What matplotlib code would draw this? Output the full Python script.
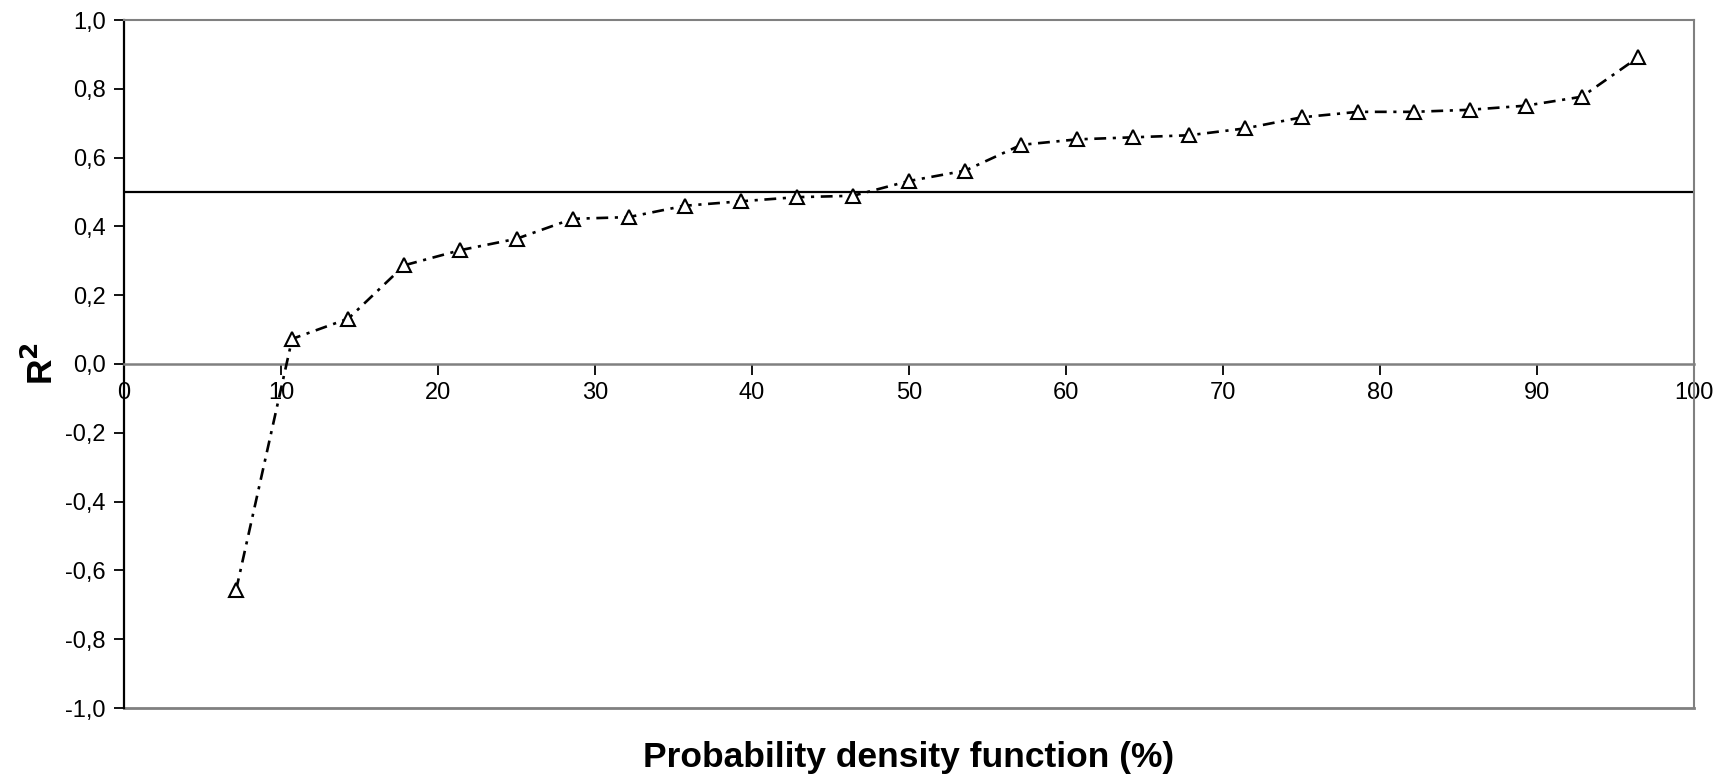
import matplotlib
matplotlib.use("Agg")
import matplotlib.pyplot as plt
from matplotlib.ticker import FuncFormatter, MultipleLocator

# Data
pdf_percent = [7.14, 10.71, 14.29, 17.86, 21.43, 25.00, 28.57, 32.14, 35.71, 39.29,
               42.86, 46.43, 50.00, 53.57, 57.14, 60.71, 64.29, 67.86, 71.43, 75.00,
               78.57, 82.14, 85.71, 89.29, 92.86, 96.43]
r2_values = [-0.657, 0.073, 0.132, 0.287, 0.331, 0.364, 0.422, 0.427, 0.460, 0.473,
             0.485, 0.489, 0.532, 0.562, 0.637, 0.653, 0.659, 0.665, 0.685, 0.717,
             0.733, 0.733, 0.739, 0.751, 0.777, 0.891]
threshold = 0.5
x_label = "Probability density function (%)"
y_label = "R$^\\mathbf{2}$"

plt.rcParams['font.family'] = ['Liberation Sans', 'DejaVu Sans']

fig = plt.figure(figsize=(17.16, 7.82), dpi=100)
ax = fig.add_axes([124/1716, 1-708/782, (1694-124)/1716, (708-20)/782])

ax.set_xlim(0, 100)
ax.set_ylim(-1.0, 1.0)

gray = '#808080'
ax.axhline(threshold, color='black', lw=1.6, zorder=2)
ax.axhline(-1.0, color=gray, lw=2, zorder=1, clip_on=False)

ax.plot(pdf_percent, r2_values, color='black', lw=1.9,
        linestyle=(0, (4.5, 2.5, 1.2, 2.5)),
        marker='^', markersize=9.5, markerfacecolor='white',
        markeredgecolor='black', markeredgewidth=1.5, zorder=4, clip_on=False)

for s in ['top', 'right']:
    ax.spines[s].set_color(gray)
    ax.spines[s].set_linewidth(1.5)
ax.spines['left'].set_color('black')
ax.spines['left'].set_linewidth(1.6)
ax.spines['bottom'].set_position(('data', 0))
ax.spines['bottom'].set_color(gray)
ax.spines['bottom'].set_linewidth(1.8)

ax.xaxis.set_major_locator(MultipleLocator(10))
ax.yaxis.set_major_locator(MultipleLocator(0.2))
ax.yaxis.set_major_formatter(FuncFormatter(lambda v, p: f"{v:.1f}".replace('.', ',').replace('-0,0', '0,0')))
ax.xaxis.set_major_formatter(FuncFormatter(lambda v, p: f"{v:.0f}"))

ax.tick_params(axis='y', direction='out', length=7, width=1.3, color='black',
               labelsize=17, pad=6)
ax.tick_params(axis='x', direction='out', length=8, width=1.3, color='black',
               labelsize=17, pad=5)

fig.text((124+1694)/2/1716, 1-758/782, x_label, ha='center', va='center',
         fontsize=25.5, fontweight='bold')
fig.text(42/1716, 1-363/782, y_label, ha='center', va='center', rotation=90,
         fontsize=25.5, fontweight='bold')

fig.savefig("out.png", dpi=100)
